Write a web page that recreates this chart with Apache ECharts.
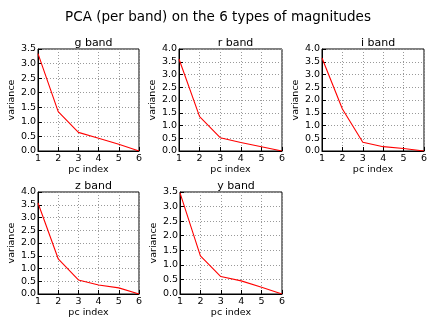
<!DOCTYPE html>
<html>
<head>
<meta charset="utf-8">
<script src="https://cdn.jsdelivr.net/npm/echarts@6/dist/echarts.min.js"></script>
<style>
  html, body { margin: 0; padding: 0; background: #fff; }
  #chart { width: 436px; height: 327px; }
</style>
</head>
<body>
<div id="chart"></div>
<script>
// pc index on the x axis
const pcIndex = [1, 2, 3, 4, 5, 6]

// variance per principal component, one array per band
const gBand = [3.34, 1.35, 0.64, 0.44, 0.23, 0.0]
const rBand = [3.61, 1.35, 0.52, 0.33, 0.17, 0.0]
const iBand = [3.65, 1.65, 0.34, 0.17, 0.10, 0.0]
const zBand = [3.57, 1.38, 0.55, 0.35, 0.24, 0.0]
const yBand = [3.47, 1.31, 0.60, 0.45, 0.23, 0.0]

const bandNames = ['g band', 'r band', 'i band', 'z band', 'y band']
const bandValues = [gBand, rBand, iBand, zBand, yBand]
const yMax = [3.5, 4.0, 4.0, 4.0, 3.5]

// plot boxes (left, top, width, height)
const boxes = [
  [38, 49, 101, 102],
  [179, 49, 103, 102],
  [322, 49, 102, 102],
  [38, 192, 101, 102],
  [180, 192, 102, 102]
]

const font = 'DejaVu Sans'
const chart = echarts.init(document.getElementById('chart'))

const grids = [], xAxes = [], yAxes = [], series = [], titles = []

titles.push({
  text: 'PCA (per band) on the 6 types of magnitudes',
  left: 'center',
  top: 5,
  textStyle: { fontFamily: font, fontSize: 13.5, fontWeight: 'normal', color: '#000' }
})

boxes.forEach((b, i) => {
  grids.push({
    left: b[0], top: b[1], width: b[2], height: b[3],
    show: true, borderColor: '#000', borderWidth: 1, backgroundColor: 'transparent'
  })
  titles.push({
    text: bandNames[i],
    left: b[0] + b[2] / 2,
    top: b[1] - 16,
    textAlign: 'center',
    textStyle: { fontFamily: font, fontSize: 11, fontWeight: 'normal', color: '#000' }
  })
  xAxes.push({
    type: 'value',
    gridIndex: i,
    min: 1, max: 6, interval: 1,
    name: 'pc index',
    nameLocation: 'middle',
    nameGap: 14,
    nameTextStyle: { fontFamily: font, fontSize: 9.5, color: '#000' },
    axisLine: { lineStyle: { color: '#000' } },
    axisTick: { inside: true, length: 4, lineStyle: { color: '#000' } },
    axisLabel: { fontFamily: font, fontSize: 9.5, color: '#000', margin: 3 },
    splitLine: { show: true, lineStyle: { color: '#999', type: [1, 2], width: 1 } }
  })
  yAxes.push({
    type: 'value',
    gridIndex: i,
    min: 0, max: yMax[i], interval: 0.5,
    name: 'variance',
    nameLocation: 'middle',
    nameGap: 17,
    nameTextStyle: { fontFamily: font, fontSize: 9.5, color: '#000' },
    axisLine: { show: true, lineStyle: { color: '#000' } },
    axisTick: { show: true, inside: true, length: 4, lineStyle: { color: '#000' } },
    axisLabel: {
      fontFamily: font, fontSize: 9.5, color: '#000', margin: 2,
      formatter: v => v.toFixed(1)
    },
    splitLine: { show: true, lineStyle: { color: '#999', type: [1, 2], width: 1 } }
  })
  series.push({
    type: 'line',
    xAxisIndex: i,
    yAxisIndex: i,
    data: pcIndex.map((x, k) => [x, bandValues[i][k]]),
    showSymbol: false,
    lineStyle: { color: '#ff0000', width: 1.1 },
    animation: false
  })
})

chart.setOption({
  backgroundColor: '#fff',
  animation: false,
  title: titles,
  grid: grids,
  xAxis: xAxes,
  yAxis: yAxes,
  series: series
})
</script>
</body>
</html>
